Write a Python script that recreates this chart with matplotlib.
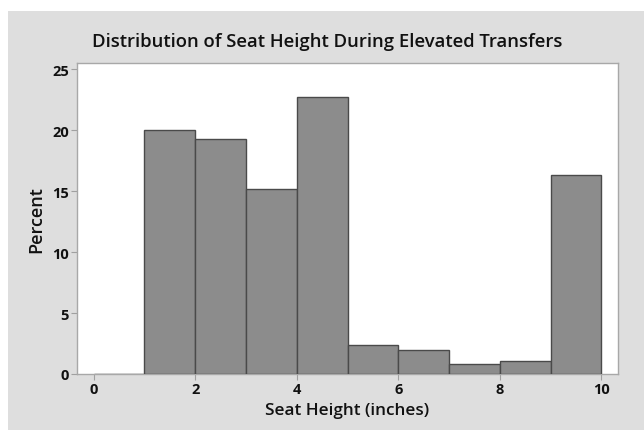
import matplotlib
matplotlib.use("Agg")
import matplotlib.pyplot as plt
from matplotlib.patches import Rectangle

bin_left = [0, 1, 2, 3, 4, 5, 6, 7, 8, 9]
percent = [0.0, 20.0, 19.3, 15.2, 22.7, 2.4, 2.0, 0.8, 1.1, 16.3]
xticks = [0, 2, 4, 6, 8, 10]
yticks = [0, 5, 10, 15, 20, 25]

W, H = 644, 431
fig = plt.figure(figsize=(W/100, H/100), dpi=100)
fig.patch.set_facecolor("white")
fig.patches.append(Rectangle((8/W, 0), 1 - 8/W, (H-12)/H, transform=fig.transFigure,
                             facecolor="#dedede", edgecolor="none", zorder=-10))

L, R, T, B = 77, 618, 64, 375
ax = fig.add_axes([L/W, (H-B)/H, (R-L)/W, (B-T)/H])
ax.set_facecolor("white")
ax.bar(bin_left, percent, width=1, align="edge", color="#8c8c8c",
       edgecolor="#4a4a4a", linewidth=1.0, zorder=3)
ax.set_xlim(-0.33, 10.33)
ax.set_ylim(0, 25.5)
ax.set_xticks(xticks)
ax.set_yticks(yticks)
fam = ["Open Sans", "DejaVu Sans"]
for lab in ax.get_xticklabels() + ax.get_yticklabels():
    lab.set_fontfamily(fam)
    lab.set_fontweight("bold")
    lab.set_fontsize(10.5)
for s in ax.spines.values():
    s.set_color("#a8a8a8")
    s.set_linewidth(1.0)
ax.tick_params(axis="both", direction="out", length=4, width=0.8, color="#a0a0a0",
               labelcolor="#111111", pad=2)
ax.set_xlabel("Seat Height (inches)", fontsize=12.3, family=fam, color="#111111",
              fontweight="semibold", labelpad=4)
ax.set_ylabel("Percent", fontsize=13, family=fam, color="#111111", fontweight="semibold", labelpad=5)
fig.text(327/W, 1 - 42/H, "Distribution of Seat Height During Elevated Transfers",
         ha="center", va="center", fontsize=13.3, family=fam, fontweight="semibold", color="#111111")
fig.savefig("out.png", dpi=100, facecolor=fig.get_facecolor())
